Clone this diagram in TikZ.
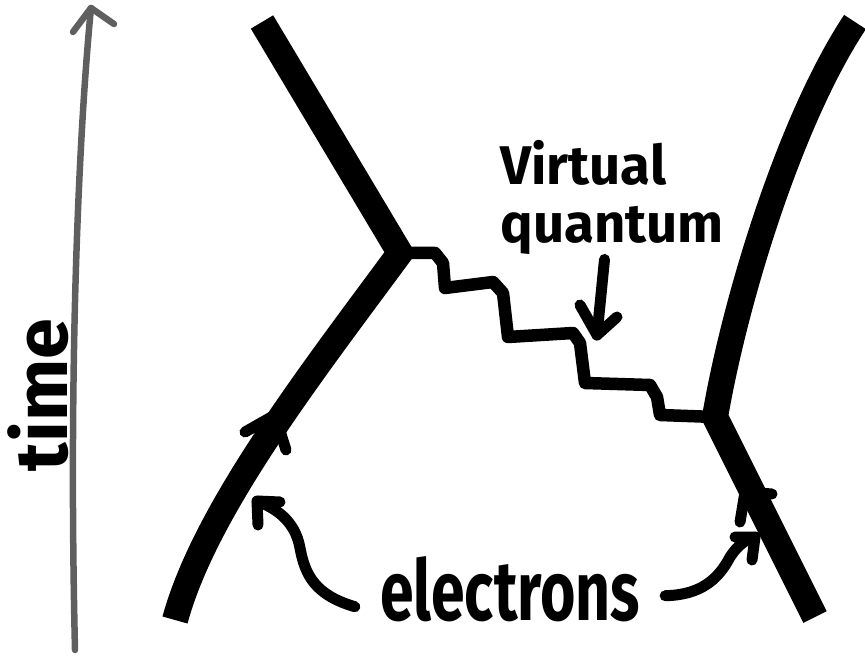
\documentclass[tikz,border=0pt]{standalone}
\usepackage{fontspec}
\setmainfont{Fira Sans}
\newfontfamily\narrowfont[FakeStretch=0.72]{Fira Sans}
\usetikzlibrary{calc}
\definecolor{pencil}{RGB}{95,95,95}

\begin{document}
\begin{tikzpicture}[x=0.02cm, y=-0.02cm,
    fermion/.style={line width=0.52cm, black},
    photon/.style={line width=0.25cm, line join=round, line cap=round},
    pointer/.style={line width=0.22cm, line cap=round, line join=round},
    axis/.style={pencil, line width=0.13cm, line cap=round, line join=round},
    lbl/.style={inner sep=0pt, font=\bfseries}]
    \useasboundingbox (0,0) rectangle (865,658);
    \coordinate (v1) at (400,253);
    \coordinate (v2) at (715,417);
    \coordinate (inL) at (175,620);
    \coordinate (outL) at (262,22);
    \coordinate (inR) at (815,617);
    \coordinate (outR) at (855,22);
    \coordinate (t0) at (75,650);
    \coordinate (t1) at (91,8);
    \draw[axis] (t0) .. controls (68,350) and (80,120) .. (t1);
    \draw[axis] (73,32) -- (t1) -- (114,24);
    \node[lbl, rotate=90, font=\bfseries\fontsize{42}{46}\selectfont] (time) at (38,395) {time};
    \draw[fermion, line join=miter] (outL) -- (v1) .. controls (310,375) and (205,510) .. (inL);
    \draw[fermion] (outR) .. controls (790,120) and (735,300) .. (v2) -- (inR);
    \draw[photon] (v1) -- (435,253) -- (443,263) -- (445,288) -- (493,282) -- (503,293)
        -- (508,337) -- (573,333) -- (580,343) -- (585,383) -- (650,385) -- (657,397)
        -- (660,415) -- (v2);
    \draw[pointer] (245,432) -- (275,415) -- (286,450);
    \draw[pointer] (740,522) -- (745,492) -- (772,494);
    \node[lbl, align=left, font=\bfseries\fontsize{31}{33}\selectfont] (vq) at (612,197) {Virtual\\quantum};
    \coordinate (qtip) at (597,335);
    \draw[pointer] ([xshift=-0.15cm,yshift=-0.1cm]vq.south) -- (qtip);
    \draw[pointer] (580,305) -- (qtip) -- (617,317);
    \node[lbl, anchor=base, inner xsep=0.5cm, font=\narrowfont\bfseries\fontsize{48}{50}\selectfont] (el) at (510,620) {electrons};
    \coordinate (aL) at (257,501);
    \coordinate (aR) at (755,537);
    \draw[pointer] ([yshift=-0.36cm]el.west) .. controls (315,595) and (305,575) .. (300,548)
        .. controls (295,520) and (275,508) .. (aL);
    \draw[pointer] (280,502) -- (aL) -- (258,525);
    \draw[pointer] ([yshift=-0.14cm]el.east) .. controls (700,595) and (718,580) .. (730,557)
        .. controls (738,545) and (745,540) .. (aR);
    \draw[pointer] (735,537) -- (aR) -- (752,560);
\end{tikzpicture}
\end{document}
